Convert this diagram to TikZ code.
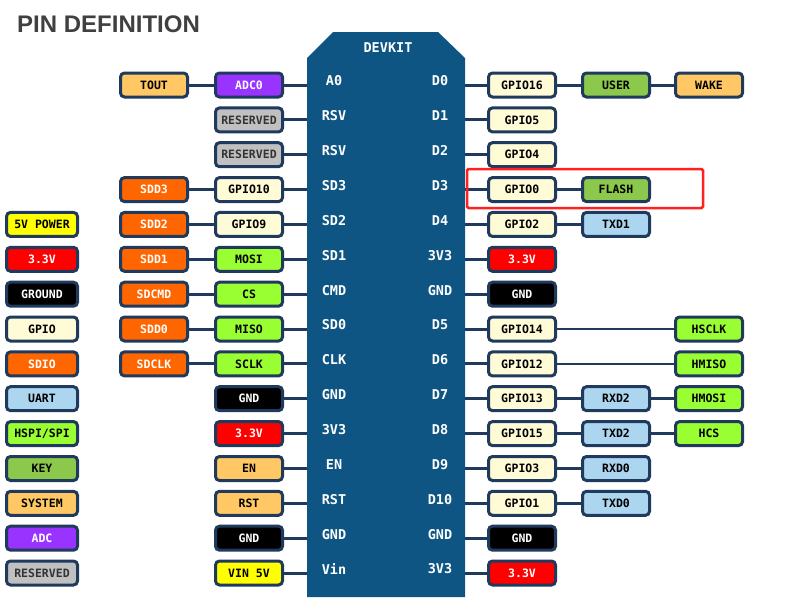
\documentclass[tikz,border=0pt]{standalone}
\usepackage{fontspec}
\setmainfont{Liberation Sans}
\setmonofont{DejaVu Sans Mono}
\definecolor{lineC}{HTML}{1F3A5C}
\definecolor{boardC}{HTML}{0F5584}
\definecolor{gpioC}{HTML}{FFFBD6}
\definecolor{sysC}{HTML}{FFC864}
\definecolor{adcC}{HTML}{9933FF}
\definecolor{resC}{HTML}{C0C0C0}
\definecolor{sdC}{HTML}{FF6600}
\definecolor{spiC}{HTML}{99FF33}
\definecolor{keyC}{HTML}{8CC84B}
\definecolor{uartC}{HTML}{ACD6F0}
\definecolor{redC}{HTML}{FF0000}
\definecolor{yelC}{HTML}{FFFF00}
\definecolor{titleC}{HTML}{404040}
\definecolor{hiC}{HTML}{FF2020}
\begin{document}
\begin{tikzpicture}[x=1pt,y=-1pt,
  pin/.style={draw=lineC, line width=3pt, rounded corners=4pt, minimum width=67pt,
    minimum height=24pt, inner sep=0pt, text=black,
    font=\ttfamily\bfseries\fontsize{11.5}{11.5}\selectfont},
  leg/.style={pin, minimum width=71pt},
  gpio/.style={fill=gpioC},
  sys/.style={fill=sysC},
  adc/.style={fill=adcC, text=white},
  res/.style={fill=resC, text=black!80},
  sd/.style={fill=sdC, text=white},
  spi/.style={fill=spiC},
  key/.style={fill=keyC},
  uart/.style={fill=uartC},
  pwr/.style={fill=redC, text=white},
  gnd/.style={fill=black, text=white},
  vin/.style={fill=yelC},
  conn/.style={draw=lineC, line width=3pt},
  blabel/.style={text=white, inner sep=0pt, font=\ttfamily\bfseries\fontsize{13.5}{13.5}\selectfont}
]
\useasboundingbox (0,0) rectangle (801,613);
% title
\node[anchor=base west, inner sep=0pt, text=titleC, font=\bfseries\fontsize{24}{24}\selectfont] (title) at (17,32) {PIN DEFINITION};
% board
\fill[boardC] (307,58) -- (333,32) -- (438,32) -- (465,58) -- (465,597) -- (307,597) -- cycle;
\coordinate (BL) at (307,300);
\coordinate (BR) at (465,300);
\node[blabel] (devkit) at (388,48) {DEVKIT};
% board labels
\foreach \n/\l/\r [count=\i from 0] in {A0/A0/D0, R1/RSV/D1, R2/RSV/D2, SD3/SD3/D3, SD2/SD2/D4,
  SD1/SD1/3V3, CMD/CMD/GND, SD0/SD0/D5, CLK/CLK/D6, G1/GND/D7, V1/3V3/D8, EN/EN/D9,
  RST/RST/D10, G2/GND/GND, VIN/Vin/3V3} {
  \node[blabel] (pl\i) at (334,{81+34.86*\i}) {\l};
  \node[blabel] (pr\i) at (440,{81+34.86*\i}) {\r};
}
% legend
\node[leg,vin]  (lg4)  at (42,224.4) {5V POWER};
\node[leg,pwr]  (lg5)  at (42,259.3) {3.3V};
\node[leg,gnd]  (lg6)  at (42,294.2) {GROUND};
\node[leg,gpio] (lg7)  at (42,329.0) {GPIO};
\node[leg,sd]   (lg8)  at (42,363.9) {SDIO};
\node[leg,uart] (lg9)  at (42,398.7) {UART};
\node[leg,spi]  (lg10) at (42,433.6) {HSPI/SPI};
\node[leg,key]  (lg11) at (42,468.5) {KEY};
\node[leg,sys]  (lg12) at (42,503.3) {SYSTEM};
\node[leg,adc]  (lg13) at (42,538.2) {ADC};
\node[leg,res]  (lg14) at (42,573.0) {RESERVED};
% left column A
\node[pin,sys] (a0) at (154,85.0)  {TOUT};
\node[pin,sd]  (a3) at (154,189.6) {SDD3};
\node[pin,sd]  (a4) at (154,224.4) {SDD2};
\node[pin,sd]  (a5) at (154,259.3) {SDD1};
\node[pin,sd]  (a6) at (154,294.2) {SDCMD};
\node[pin,sd]  (a7) at (154,329.0) {SDD0};
\node[pin,sd]  (a8) at (154,363.9) {SDCLK};
% left column B
\node[pin,adc]  (b0)  at (249,85.0)  {ADC0};
\node[pin,res]  (b1)  at (249,119.9) {RESERVED};
\node[pin,res]  (b2)  at (249,154.7) {RESERVED};
\node[pin,gpio] (b3)  at (249,189.6) {GPIO10};
\node[pin,gpio] (b4)  at (249,224.4) {GPIO9};
\node[pin,spi]  (b5)  at (249,259.3) {MOSI};
\node[pin,spi]  (b6)  at (249,294.2) {CS};
\node[pin,spi]  (b7)  at (249,329.0) {MISO};
\node[pin,spi]  (b8)  at (249,363.9) {SCLK};
\node[pin,gnd]  (b9)  at (249,398.7) {GND};
\node[pin,pwr]  (b10) at (249,433.6) {3.3V};
\node[pin,sys]  (b11) at (249,468.5) {EN};
\node[pin,sys]  (b12) at (249,503.3) {RST};
\node[pin,gnd]  (b13) at (249,538.2) {GND};
\node[pin,vin]  (b14) at (249,573.0) {VIN 5V};
% right column 1
\node[pin,gpio] (c0)  at (522,85.0)  {GPIO16};
\node[pin,gpio] (c1)  at (522,119.9) {GPIO5};
\node[pin,gpio] (c2)  at (522,154.7) {GPIO4};
\node[pin,gpio] (c3)  at (522,189.6) {GPIO0};
\node[pin,gpio] (c4)  at (522,224.4) {GPIO2};
\node[pin,pwr]  (c5)  at (522,259.3) {3.3V};
\node[pin,gnd]  (c6)  at (522,294.2) {GND};
\node[pin,gpio] (c7)  at (522,329.0) {GPIO14};
\node[pin,gpio] (c8)  at (522,363.9) {GPIO12};
\node[pin,gpio] (c9)  at (522,398.7) {GPIO13};
\node[pin,gpio] (c10) at (522,433.6) {GPIO15};
\node[pin,gpio] (c11) at (522,468.5) {GPIO3};
\node[pin,gpio] (c12) at (522,503.3) {GPIO1};
\node[pin,gnd]  (c13) at (522,538.2) {GND};
\node[pin,pwr]  (c14) at (522,573.0) {3.3V};
% right column 2
\node[pin,key]  (d0)  at (616,85.0)  {USER};
\node[pin,key]  (d3)  at (616,189.6) {FLASH};
\node[pin,uart] (d4)  at (616,224.4) {TXD1};
\node[pin,uart] (d9)  at (616,398.7) {RXD2};
\node[pin,uart] (d10) at (616,433.6) {TXD2};
\node[pin,uart] (d11) at (616,468.5) {RXD0};
\node[pin,uart] (d12) at (616,503.3) {TXD0};
% right column 3
\node[pin,sys] (e0)  at (709,85.0)  {WAKE};
\node[pin,spi] (e7)  at (709,329.0) {HSCLK};
\node[pin,spi] (e8)  at (709,363.9) {HMISO};
\node[pin,spi] (e9)  at (709,398.7) {HMOSI};
\node[pin,spi] (e10) at (709,433.6) {HCS};
% connectors left
\draw[conn] (a0.east) -- (b0.west);
\foreach \i in {3,...,8} { \draw[conn] (a\i.east) -- (b\i.west); }
\foreach \i in {0,...,14} { \draw[conn] (b\i.east) -- (b\i.east -| BL); }
% connectors right
\foreach \i in {0,...,14} { \draw[conn] (c\i.west -| BR) -- (c\i.west); }
\foreach \i in {0,3,4,9,10,11,12} { \draw[conn] (c\i.east) -- (d\i.west); }
\foreach \i in {0,9,10} { \draw[conn] (d\i.east) -- (e\i.west); }
\foreach \i in {7,8} { \draw[conn, line width=2.4pt] (c\i.east) -- (e\i.west); }
% highlight
\draw[hiC, line width=2.5pt, rounded corners=1.5pt] (467,169) rectangle (703,208);
\end{tikzpicture}
\end{document}
